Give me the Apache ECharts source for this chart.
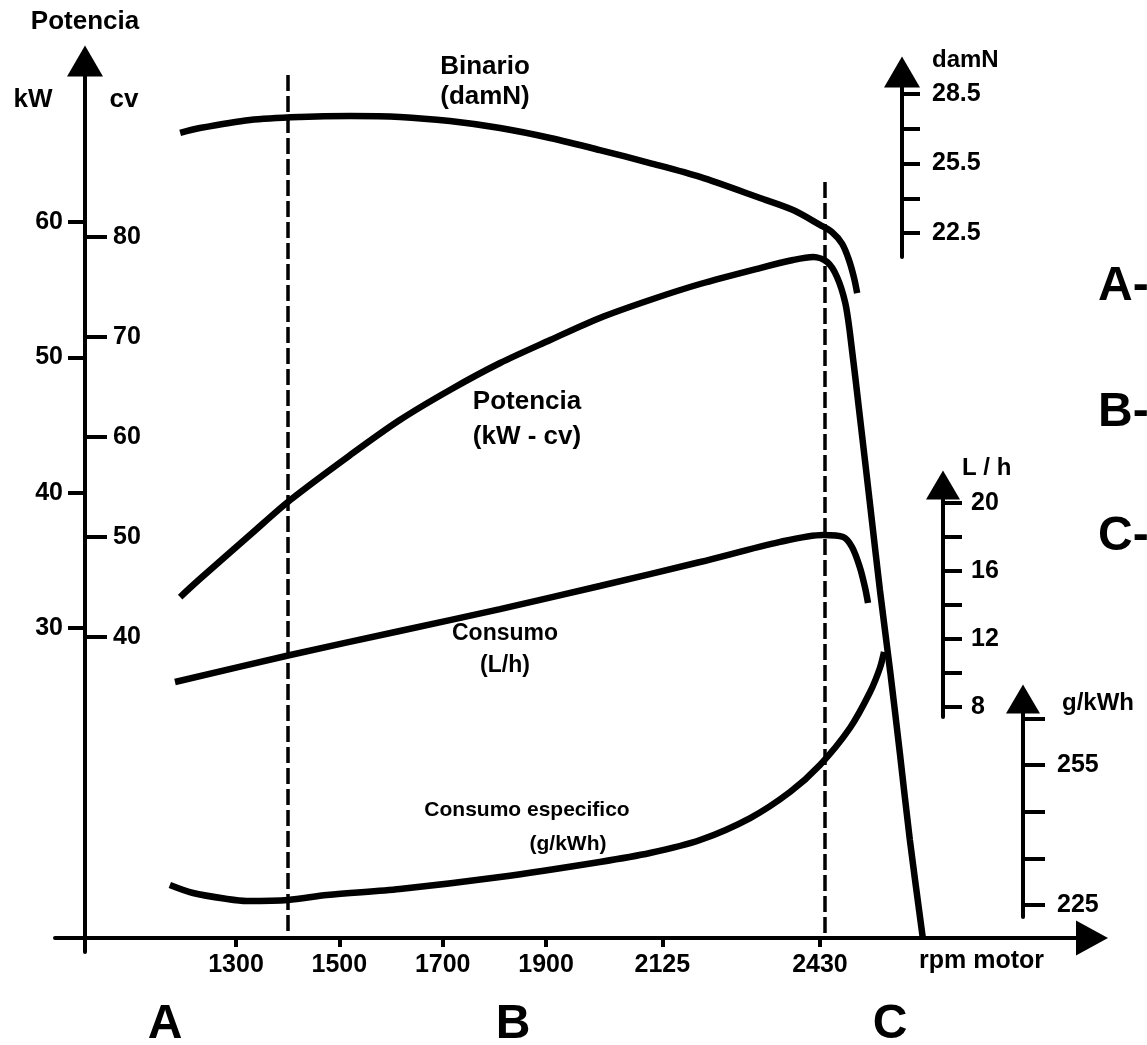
<!DOCTYPE html>
<html><head><meta charset="utf-8">
<script src="https://cdn.jsdelivr.net/npm/echarts@6/dist/echarts.min.js"></script>
<style>html,body{margin:0;padding:0;background:#fff}#c{width:1147px;height:1045px}</style>
</head><body><div id="c"></div>
<script>
// ---- data ----
const rpmTicks = [1300, 1500, 1700, 1900, 2125, 2430];
const kwTicks = [30, 40, 50, 60];
const cvTicks = [40, 50, 60, 70, 80];
const damnTicks = [22.5, 24, 25.5, 27, 28.5];
const damnLabels = [22.5, 25.5, 28.5];
const lhTicks = [8, 10, 12, 14, 16, 18, 20];
const lhLabels = [8, 12, 16, 20];
const gTicks = [225, 235, 245, 255, 265];
const gLabels = [225, 255];

const binarioRpm = [1192, 1230, 1327, 1424, 1521, 1617, 1714, 1811, 1908, 2004, 2101, 2198, 2314, 2378, 2430, 2453, 2473, 2486, 2496, 2502];
const binarioVal = [26.82, 27.03, 27.38, 27.51, 27.55, 27.51, 27.33, 27.03, 26.60, 26.08, 25.52, 24.92, 24.01, 23.49, 22.85, 22.54, 22.03, 21.34, 20.56, 19.91];

const potenciaRpm = [1192, 1230, 1327, 1405, 1521, 1617, 1714, 1811, 1908, 2004, 2101, 2198, 2314, 2378, 2417, 2444, 2463, 2479, 2488, 2508, 2527, 2546, 2566, 2585, 2604, 2629];
const potenciaVal = [32.29, 33.62, 36.87, 39.46, 42.78, 45.37, 47.59, 49.58, 51.28, 52.91, 54.24, 55.42, 56.60, 57.19, 57.41, 57.04, 55.94, 54.02, 51.80, 45.37, 39.09, 32.81, 26.75, 20.62, 14.33, 7.09];

const consumoRpm = [1182, 1405, 1617, 1811, 2004, 2198, 2353, 2436, 2475, 2492, 2507, 2517, 2523];
const consumoVal = [9.47, 11.06, 12.47, 13.76, 15.12, 16.53, 17.71, 18.12, 18.00, 17.41, 16.24, 15.06, 14.12];

const especRpm = [1172, 1217, 1283, 1321, 1401, 1476, 1617, 1811, 2004, 2101, 2198, 2295, 2372, 2430, 2488, 2527, 2546, 2554];
const especVal = [229.29, 227.57, 226.29, 225.86, 226.07, 227.14, 228.43, 231.0, 234.22, 236.14, 238.93, 243.64, 249.21, 255.0, 262.93, 270.64, 275.78, 279.21];

const dashedRpm = [1400, 2440];
const dashedTopKw = [70.86, 62.96];
const dashedBottomKw = [7.09, 7.09];

// ---- layout ----
const FONT = '"Liberation Sans", Arial, sans-serif';
const X_MIN = 949.8, X_MAX = 2956.4;
const GL = 55, GW = 1037;
const zip = (a, b) => a.map((v, i) => [v, b[i]]);

const lineStyle = { color: '#000', width: 6.5 };
const axisLineBase = (size) => ({ show: true, lineStyle: { color: '#000', width: 4 }, symbol: ['none', 'triangle'], symbolSize: size });
const labelBase = { color: '#000', fontFamily: FONT, fontWeight: 'bold', fontSize: 25, formatter: (v) => String(v) };

const hiddenX = (gi) => ({ type: 'value', gridIndex: gi, min: X_MIN, max: X_MAX, show: false });

const option = {
  animation: false,
  backgroundColor: '#fff',
  grid: [
    { left: GL, top: 61, width: GW, height: 891 },
    { left: GL, top: 72, width: GW, height: 185 },
    { left: GL, top: 485, width: GW, height: 232 },
    { left: GL, top: 699, width: GW, height: 218 }
  ],
  xAxis: [
    {
      type: 'value', gridIndex: 0, min: X_MIN, max: X_MAX, position: 'bottom', offset: -14,
      axisLine: axisLineBase([35, 32]),
      axisTick: { show: true, customValues: rpmTicks, length: 9, lineStyle: { color: '#000', width: 4 } },
      axisLabel: Object.assign({}, labelBase, { customValues: rpmTicks, margin: 15 }),
      splitLine: { show: false }
    },
    hiddenX(1), hiddenX(2), hiddenX(3)
  ],
  yAxis: [
    {
      type: 'value', gridIndex: 0, position: 'left', offset: -30, min: 6.059, max: 71.898,
      axisLine: axisLineBase([36, 31]),
      axisTick: { show: true, customValues: kwTicks, length: 17, lineStyle: { color: '#000', width: 4 } },
      axisLabel: Object.assign({}, labelBase, { customValues: kwTicks, margin: 22 }),
      splitLine: { show: false }
    },
    {
      type: 'value', gridIndex: 0, position: 'left', offset: -30, min: 8.5, max: 97.6,
      axisLine: { show: false },
      axisTick: { show: true, inside: true, customValues: cvTicks, length: 22, lineStyle: { color: '#000', width: 4 } },
      axisLabel: Object.assign({}, labelBase, { inside: true, customValues: cvTicks, margin: 28 }),
      splitLine: { show: false }
    },
    {
      type: 'value', gridIndex: 1, position: 'right', offset: -190, min: 21.465, max: 29.449,
      axisLine: axisLineBase([36, 31]),
      axisTick: { show: true, customValues: damnTicks, length: 18, lineStyle: { color: '#000', width: 4 } },
      axisLabel: Object.assign({}, labelBase, { customValues: damnLabels, margin: 30 }),
      splitLine: { show: false }
    },
    {
      type: 'value', gridIndex: 2, position: 'right', offset: -149, min: 7.412, max: 21.059,
      axisLine: axisLineBase([34, 29]),
      axisTick: { show: true, customValues: lhTicks, length: 19, lineStyle: { color: '#000', width: 4 } },
      axisLabel: Object.assign({}, labelBase, { customValues: lhLabels, margin: 28 }),
      splitLine: { show: false }
    },
    {
      type: 'value', gridIndex: 3, position: 'right', offset: -69, min: 222.43, max: 269.14,
      axisLine: axisLineBase([34, 29]),
      axisTick: { show: true, customValues: gTicks, length: 22, lineStyle: { color: '#000', width: 4 } },
      axisLabel: Object.assign({}, labelBase, { customValues: gLabels, margin: 34 }),
      splitLine: { show: false }
    }
  ],
  series: [
    {
      name: 'Potencia', type: 'line', xAxisIndex: 0, yAxisIndex: 0, data: zip(potenciaRpm, potenciaVal),
      showSymbol: false, smooth: 0.3, lineStyle: lineStyle, silent: true,
      markLine: {
        silent: true, symbol: ['none', 'none'], label: { show: false },
        lineStyle: { color: '#000', width: 3.5, type: [16, 5] },
        data: dashedRpm.map((r, i) => [{ coord: [r, dashedTopKw[i]] }, { coord: [r, dashedBottomKw[i]] }])
      }
    },
    {
      name: 'Binario', type: 'line', xAxisIndex: 1, yAxisIndex: 2, data: zip(binarioRpm, binarioVal),
      showSymbol: false, smooth: 0.3, clip: false, lineStyle: lineStyle, silent: true
    },
    {
      name: 'Consumo', type: 'line', xAxisIndex: 2, yAxisIndex: 3, data: zip(consumoRpm, consumoVal),
      showSymbol: false, smooth: 0.3, clip: false, lineStyle: lineStyle, silent: true
    },
    {
      name: 'Consumo especifico', type: 'line', xAxisIndex: 3, yAxisIndex: 4, data: zip(especRpm, especVal),
      showSymbol: false, smooth: 0.3, clip: false, lineStyle: lineStyle, silent: true
    }
  ],
  graphic: []
};

function txt(text, x, y, size, align) {
  option.graphic.push({
    type: 'text', x: x, y: y, silent: true,
    style: { text: text, fill: '#000', font: 'bold ' + size + 'px ' + FONT, align: align || 'center', verticalAlign: 'middle' }
  });
}
txt('Potencia', 85, 22, 26);
txt('kW', 33, 100, 26);
txt('cv', 124, 100, 26);
txt('Binario', 485, 67, 26);
txt('(damN)', 485, 97, 26);
txt('Potencia', 527, 402, 26);
txt('(kW - cv)', 527, 437, 26);
txt('Consumo', 505, 634, 23);
txt('(L/h)', 505, 666, 23);
txt('Consumo especifico', 527, 810, 21);
txt('(g/kWh)', 568, 844, 21);
txt('damN', 932, 60, 24, 'left');
txt('L / h', 962, 468, 24, 'left');
txt('g/kWh', 1062, 703, 24, 'left');
txt('rpm motor', 919, 961, 25, 'left');
txt('A', 165, 1025, 48);
txt('B', 513, 1025, 48);
txt('C', 890, 1025, 48);
txt('A-', 1098, 287, 48, 'left');
txt('B-', 1098, 413, 48, 'left');
txt('C-', 1098, 537, 48, 'left');

const chart = echarts.init(document.getElementById('c'), null, { renderer: 'canvas' });
chart.setOption(option);
</script>
</body></html>
